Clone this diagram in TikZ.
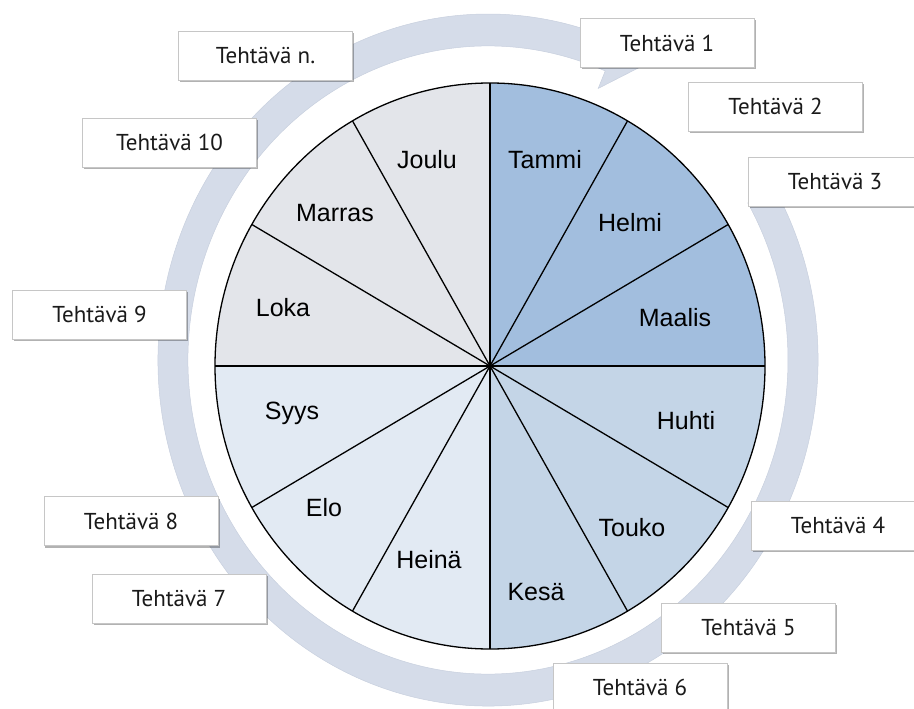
\documentclass[tikz,border=0pt]{standalone}
\usepackage{fontspec}
\setmainfont{Liberation Sans}
\newfontfamily\boxfont{PT Sans}
\usetikzlibrary{shadows}
\definecolor{ringc}{HTML}{D5DCE9}
\definecolor{ringedge}{HTML}{C8D0DE}
\definecolor{qa}{HTML}{A2BEDE}
\definecolor{qb}{HTML}{C4D5E7}
\definecolor{qc}{HTML}{E2EAF3}
\definecolor{qd}{HTML}{E3E5EA}
\definecolor{boxline}{HTML}{C6C6C6}
\definecolor{boxtext}{HTML}{1A1A1A}

\begin{document}
\begin{tikzpicture}[x=1bp,y=-1bp,
  month/.style={font=\fontsize{25bp}{29bp}\selectfont, text=black, inner sep=0pt},
  task/.style={draw=boxline, line width=0.8bp, fill=white,
    minimum width=174bp, minimum height=49bp, inner sep=0pt,
    font=\boxfont\fontsize{23bp}{27bp}\selectfont, text=boxtext,
    drop shadow={shadow xshift=1.5bp, shadow yshift=-2bp, opacity=0.3, fill=black}},
  spoke/.style={line width=1.3bp, black}]
\useasboundingbox (0,0) rectangle (914,709);
\clip (0,0) rectangle (914,709);

% circular arrow running clockwise round the year
\begin{scope}[shift={(488,360)}]
  \fill[ringc, draw=ringedge, line width=0.5bp]
    (-30:330 and 346)
    arc[start angle=-30, end angle=293, x radius=330, y radius=346]
    -- (293:352 and 368) -- (162,-298) -- (293:282 and 295)
    -- (293:300 and 314)
    arc[start angle=293, end angle=-30, x radius=300, y radius=314]
    -- cycle;
\end{scope}

% year wheel: four quarters, outline and month spokes
\begin{scope}[shift={(490,366)}]
  \fill[qa] (0,0) -- (-90:275 and 283)
    arc[start angle=-90, end angle=0, x radius=275, y radius=283] -- cycle;
  \fill[qb] (0,0) -- (0:275 and 283)
    arc[start angle=0, end angle=90, x radius=275, y radius=283] -- cycle;
  \fill[qc] (0,0) -- (90:275 and 283)
    arc[start angle=90, end angle=180, x radius=275, y radius=283] -- cycle;
  \fill[qd] (0,0) -- (180:275 and 283)
    arc[start angle=180, end angle=270, x radius=275, y radius=283] -- cycle;
  \foreach \a in {0,30,...,330}
    \draw[spoke] (0,0) -- (\a:275 and 283);
  \draw[spoke] (0,0) ellipse [x radius=275, y radius=283];
\end{scope}

% month names
\node[month] (tammi)  at (545,160) {Tammi};
\node[month] (helmi)  at (630,223) {Helmi};
\node[month] (maalis) at (675,318) {Maalis};
\node[month] (huhti)  at (686,421) {Huhti};
\node[month] (touko)  at (632,528) {Touko};
\node[month] (kesa)   at (536,592) {Kesä};
\node[month] (heina)  at (429,560) {Heinä};
\node[month] (elo)    at (324,508) {Elo};
\node[month] (syys)   at (292,413) {Syys};
\node[month] (loka)   at (283,308) {Loka};
\node[month] (marras) at (335,213) {Marras};
\node[month] (joulu)  at (427,160) {Joulu};

% task boxes
\node[task] (tn)  at (265.5,55.5)  {Tehtävä n.};
\node[task] (t1)  at (667,43)      {Tehtävä 1};
\node[task] (t2)  at (775.5,106.5) {Tehtävä 2};
\node[task] (t3)  at (835,181.5)   {Tehtävä 3};
\node[task] (t4)  at (838,525.5)   {Tehtävä 4};
\node[task] (t5)  at (748.5,627.5) {Tehtävä 5};
\node[task] (t6)  at (640,687.5)   {Tehtävä 6};
\node[task] (t7)  at (179,598.5)   {Tehtävä 7};
\node[task] (t8)  at (131,521)     {Tehtävä 8};
\node[task] (t9)  at (99.5,314.5)  {Tehtävä 9};
\node[task] (t10) at (169.5,142.5) {Tehtävä 10};
\end{tikzpicture}
\end{document}
